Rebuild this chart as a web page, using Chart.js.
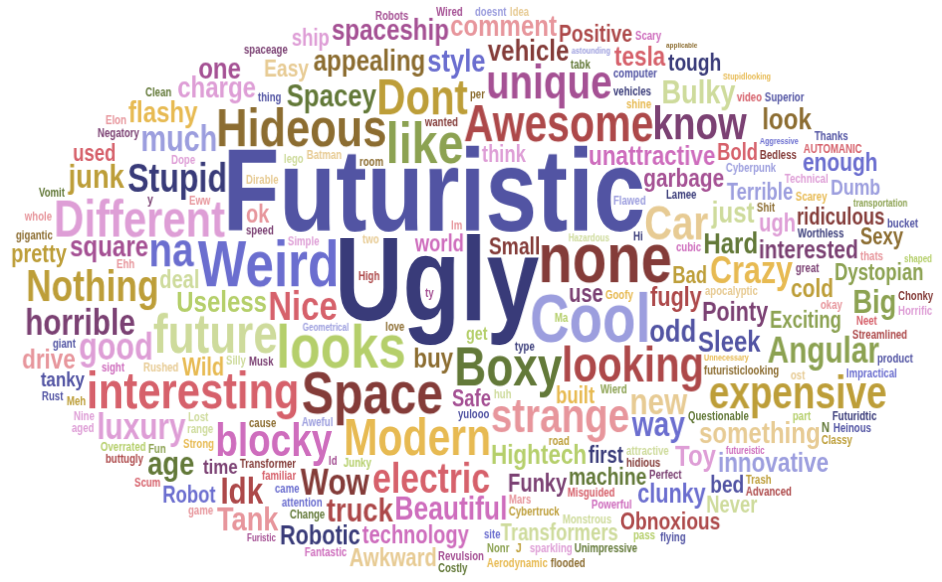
<!DOCTYPE html>
<html lang="en">
<head>
<meta charset="UTF-8">
<title>Word cloud</title>
<script src="https://cdn.jsdelivr.net/npm/chart.js"></script>
<style>
  html, body { margin: 0; padding: 0; background: #fff; }
  #wrap { width: 942px; height: 582px; position: relative; }
</style>
</head>
<body>
<div id="wrap"><canvas id="cloudChart"></canvas></div>
<script>
const bigWords = ['Ugly','Futuristic','none','Cool','Weird','looks','Space','like','Boxy','future',
  'Hideous','Different','interesting','Awesome','Modern','looking','Dont','strange','unique','na',
  'Car','know','blocky','expensive','Nothing','electric','Nice','Stupid'];
const bigWeights = [118,116,70,68,64,62,60,58,55,55,
  54,52,52,51,51,50,50,48,48,48,
  48,46,46,46,44,42,41,40];

const midWords = ['good','Crazy','horrible','Angular','luxury','Wow','Idk','new',
  'way','much','age','Bulky','Tank','junk','truck','Big',
  'Beautiful','odd','style','Spacey',
  'square','look','flashy','charge','something','one','appealing','Toy','Hard','just','vehicle','Sleek','spaceship','Useless','comment',
  'innovative','Hightech','tesla','buy','drive','unattractive',
  'fugly','Robotic','clunky','Pointy',
  'cold','garbage','enough','interested',
  'ok','technology','use',
  'Easy','pretty','Awkward','Funky','deal','ugh','Wild',
  'Positive','Small','Obnoxious','bed','machine','tough',
  'Terrible','Exciting','Safe','built','Bold',
  'Dumb',
  'ship','think','Robot','first','Never','Dystopian','Sexy','used','ridiculous','world','Bad','Transformers',
  'time','tanky',
  'get'];
const midWeights = [38,38,37,37,37,37,37,37,
  35,36,34,34,34,34,34,34,
  33,32,32,32,
  30,30,30,30,30,30,30,30,30,30,30,30,30,30,30,
  28,28,28,28,28,28,
  27,27,27,27,
  26,26,26,26,
  25,25,25,
  24,25,25,25,25,25,25,
  24,24,24,24,24,24,
  23,23,23,23,23,
  22,
  23,23,23,23,23,23,23,23,23,23,23,23,
  21,21,
  18];

const smallWords = [
  'Futuridtic','type','Silly','attractive','Trash','Dirable','apocalyptic','Negatory','Mars','cubic',
  'Rushed','Questionable','futuristiclooking','Impractical','Misguided','Overrated','Dope','Batman','doesnt','came',
  'yulooo','Ehh','Streamlined','Flawed','Lamee','wanted','computer','y','Simple','attention',
  'two','speed','Transformer','Meh','Cyberpunk','Wierd','AUTOMANIC','Cybertruck','Junky','spaceage',
  'Clean','whole','Eww','Fantastic','Classy','Revulsion','buttugly','Robots','love','Shit',
  'part','familiar','Goofy','Fun','Nine','Change','High','cause','tabk','Elon',
  'room','Ma','sparkling','hidious','ost','lm','ty','site','Aerodynamic','great',
  'range','Neet','Hi','J','Strong','Perfect','Lost','per','N','shine',
  'Unimpressive','thing','aged','Musk','Rust','Costly','product','Advanced','Monstrous','vehicles',
  'Scarey','Powerful','Horrific','flying','video','pass','Aweful','transportation','Worthless','Nonr',
  'Stupidlooking','Technical','gigantic','Idea','road','okay','huh','lego','flooded','Chonky',
  'sight','Heinous','Id','game','Wired','giant','Scum','Vomit','Bedless','Hazardous',
  'thats','Aggressive','bucket','Geometrical','astounding','Scary','futureistic','Superior','Thanks','shaped',
  'applicable','Unnecessary','Furistic'];
const smallWeights = [
  12,12,12,12,12,12,12,12,12,12,
  12,12,12,12,12,12,12,12,12,12,
  12,12,12,12,12,12,12,13,12,12,
  12,12,12,12,12,12,12,12,12,12,
  12,12,12,12,12,12,12,12,12,12,
  12,12,12,12,12,12,12,12,12,12,
  12,12,12,12,12,12,12,12,12,12,
  12,12,12,13,12,12,12,12,14,12,
  12,12,12,12,12,12,12,12,12,12,
  12,12,12,12,12,12,12,12,12,12,
  12,12,12,12,12,12,12,12,12,12,
  12,12,12,12,12,12,12,12,12,12,
  12,12,12,12,12,12,12,12,12,12,
  12,12,12];

// --- styles ---
const palette = ['#393b79','#5254a3','#6b6ecf','#9c9ede','#637939','#8ca252','#b5cf6b','#cedb9c',
  '#8c6d31','#bd9e39','#e7ba52','#e7cb94','#843c39','#ad494a','#d6616b','#e7969c',
  '#7b4173','#a55194','#ce6dbd','#de9ed6'];
const colorOf = {
  Ugly:0, Futuristic:1, none:12, Cool:3, Weird:2, looks:6, Space:12, like:5, Boxy:4, future:7,
  Hideous:8, Different:19, interesting:14, Awesome:13, Modern:10, looking:13, Dont:9, strange:15, unique:17, na:2,
  Car:11, know:16, blocky:18, expensive:9, Nothing:9, electric:14, Nice:14, Stupid:0,
  good:19, Crazy:10, horrible:16, Angular:5, luxury:19, Wow:12, Idk:13, new:11, way:2, much:3, age:4,
  Bulky:7, Tank:15, junk:9, truck:13, Big:5, Beautiful:18, odd:1, style:2, Spacey:4, square:17, look:8,
  flashy:10, charge:19, something:11, one:17, appealing:8, Toy:19, Hard:4, just:7, vehicle:12, Sleek:1,
  spaceship:17, Useless:6, comment:15, innovative:3, Hightech:6, tesla:14, buy:8, drive:15, unattractive:18,
  fugly:13, Robotic:0, clunky:2, Pointy:16, cold:9, garbage:17, enough:2, interested:16, ok:15,
  technology:18, use:16, Easy:11, pretty:9, Awkward:11, Funky:16, deal:7, ugh:19, Wild:10, Positive:13,
  Small:12, Obnoxious:13, bed:1, machine:4, tough:0, Terrible:3, Exciting:5, Safe:17, built:10, Bold:14,
  Dumb:3, ship:19, think:19, Robot:2, first:0, Never:7, Dystopian:5, Sexy:8, used:14, ridiculous:12,
  world:18, Bad:9, Transformers:7, time:16, tanky:1, get:6,
  Futuridtic:0, type:0, Silly:7, attractive:7, Trash:9, Dirable:11, apocalyptic:11, Negatory:16, Mars:15, cubic:18,
  Rushed:11, Questionable:4, futuristiclooking:8, Impractical:2, Misguided:14, Overrated:6, Dope:19, Batman:11, doesnt:3, came:2,
  yulooo:1, Ehh:15, Streamlined:13, Flawed:3, Lamee:0, wanted:12, computer:1, y:16, Simple:19, attention:2,
  two:11, speed:16, Transformer:12, Meh:9, Cyberpunk:3, Wierd:5, AUTOMANIC:14, Cybertruck:9, Junky:6, spaceage:16,
  Clean:4, whole:15, Eww:15, Fantastic:18, Classy:9, Revulsion:17, buttugly:13, Robots:17, love:8, Shit:8,
  part:6, familiar:14, Goofy:10, Fun:5, Nine:19, Change:4, High:13, cause:8, tabk:4, Elon:15,
  room:8, Ma:6, sparkling:19, hidious:12, ost:11, lm:15, ty:17, site:2, Aerodynamic:10, great:16,
  range:7, Neet:14, Hi:0, J:9, Strong:10, Perfect:16, Lost:7, per:8, N:4, shine:10,
  Unimpressive:4, thing:1, aged:19, Musk:16, Rust:1, Costly:4, product:1, Advanced:13, Monstrous:7, vehicles:0,
  Scarey:10, Powerful:18, Horrific:19, flying:1, video:14, pass:6, Aweful:3, transportation:5, Worthless:0, Nonr:5,
  Stupidlooking:10, Technical:19, gigantic:8, Idea:11, road:9, okay:15, huh:7, lego:7, flooded:8, Chonky:12,
  sight:18, Heinous:1, Id:17, game:15, Wired:17, giant:1, Scum:14, Vomit:4, Bedless:12, Hazardous:7,
  thats:15, Aggressive:2, bucket:1, Geometrical:3, astounding:3, Scary:18, futureistic:18, Superior:1, Thanks:1, shaped:6,
  applicable:8, Unnecessary:10, Furistic:17
};

const W = 942, H = 582;
const FONT = '"Liberation Sans", Arial, sans-serif';
const SQUEEZE = 0.8;   // reference font is a narrow one
const SIZE_SCALE = 1.0;
const PAD = 2;

// small seeded generator so the layout is the same on every load
function seeded(seed) {
  return function () {
    seed = (seed + 0x6D2B79F5) | 0;
    let t = Math.imul(seed ^ (seed >>> 15), 1 | seed);
    t = (t + Math.imul(t ^ (t >>> 7), 61 | t)) ^ t;
    return ((t ^ (t >>> 14)) >>> 0) / 4294967296;
  };
}

function makeSprite(text, size, color) {
  const c = document.createElement('canvas');
  const g = c.getContext('2d', { willReadFrequently: true });
  const font = 'bold ' + size + 'px ' + FONT;
  g.font = font;
  const m = g.measureText(text);
  const left = m.actualBoundingBoxLeft, right = m.actualBoundingBoxRight;
  const asc = m.actualBoundingBoxAscent, desc = m.actualBoundingBoxDescent;
  let w = Math.ceil((left + right) * SQUEEZE) + 2 * PAD + 2;
  let h = Math.ceil(asc + desc) + 2 * PAD + 2;
  if (w % 2) w++;
  if (h % 2) h++;
  c.width = w; c.height = h;
  g.font = font;
  g.fillStyle = color;
  g.textBaseline = 'alphabetic';
  g.setTransform(SQUEEZE, 0, 0, 1, PAD + 1, 0);
  g.fillText(text, left, PAD + 1 + asc);
  const px = g.getImageData(0, 0, w, h).data;
  const ink = new Uint8Array(w * h);
  for (let i = 0; i < w * h; i++) ink[i] = px[i * 4 + 3] > 50 ? 1 : 0;
  return { canvas: c, w, h, ink };
}

function layoutCloud(words, weights) {
  const cx = W / 2, cy = H / 2, rx = W / 2, ry = H / 2;
  const occ = new Uint8Array(W * H);
  for (let y = 0; y < H; y++) {
    for (let x = 0; x < W; x++) {
      const dx = (x + 0.5 - cx) / rx, dy = (y + 0.5 - cy) / ry;
      if (dx * dx + dy * dy > 1) occ[y * W + x] = 1;
    }
  }
  const W1 = W + 1;
  const sum = new Int32Array(W1 * (H + 1));
  function integrate() {
    for (let y = 0; y < H; y++) {
      let row = 0;
      for (let x = 0; x < W; x++) {
        row += occ[y * W + x];
        sum[(y + 1) * W1 + x + 1] = sum[y * W1 + x + 1] + row;
      }
    }
  }
  const order = words.map((w, i) => i).sort((a, b) => weights[b] - weights[a]);
  const rand = seeded(11);
  const placed = [];
  integrate();
  order.forEach((idx, rank) => {
    const word = words[idx];
    const color = palette[colorOf[word] ?? 0];
    // biggest words near the middle, the rest anywhere in the ellipse
    const spread = Math.min(1, 0.1 + 9 * rank / order.length);
    const a = rand() * Math.PI * 2, r = Math.sqrt(rand()) * spread;
    const tx = cx + Math.cos(a) * r * rx * 0.92, ty = cy + Math.sin(a) * r * ry * 0.92;
    let size = weights[idx] * SIZE_SCALE;
    while (size >= 7) {
      const sp = makeSprite(word, size, color);
      let best = null, bestD = Infinity;
      for (let y = 0; y + sp.h <= H; y++) {
        const top = y * W1, bot = (y + sp.h) * W1;
        const ddy = (y + sp.h / 2 - ty) / ry;
        const ddy2 = ddy * ddy;
        if (ddy2 > bestD) continue;
        for (let x = 0; x + sp.w <= W; x++) {
          if (sum[bot + x + sp.w] - sum[top + x + sp.w] - sum[bot + x] + sum[top + x] !== 0) continue;
          const ddx = (x + sp.w / 2 - tx) / rx;
          const d = ddx * ddx + ddy2;
          if (d < bestD) { bestD = d; best = [x, y]; }
        }
      }
      if (best) {
        const [bx, by] = best;
        for (let j = 0; j < sp.h; j++)
          for (let i = 0; i < sp.w; i++)
            if (sp.ink[j * sp.w + i]) occ[(by + j) * W + bx + i] = 1;
        integrate();
        placed.push({ word, x: bx + sp.w / 2, y: by + sp.h / 2, sprite: sp.canvas });
        return;
      }
      size = Math.floor(size * 0.9);
    }
  });
  return placed;
}

const allWords = bigWords.concat(midWords, smallWords);
const allWeights = bigWeights.concat(midWeights, smallWeights);
const cloud = layoutCloud(allWords, allWeights);

new Chart(document.getElementById('cloudChart'), {
  type: 'scatter',
  data: {
    labels: cloud.map(p => p.word),
    datasets: [{
      label: 'words',
      data: cloud.map(p => ({ x: p.x, y: p.y })),
      pointStyle: cloud.map(p => p.sprite),
      pointRadius: 1,
      pointHoverRadius: 1
    }]
  },
  options: {
    responsive: true,
    maintainAspectRatio: false,
    animation: false,
    events: [],
    layout: { padding: 0 },
    plugins: { legend: { display: false }, tooltip: { enabled: false } },
    scales: {
      x: { type: 'linear', display: false, min: 0, max: W },
      y: { type: 'linear', display: false, min: 0, max: H, reverse: true }
    }
  }
});
</script>
</body>
</html>
